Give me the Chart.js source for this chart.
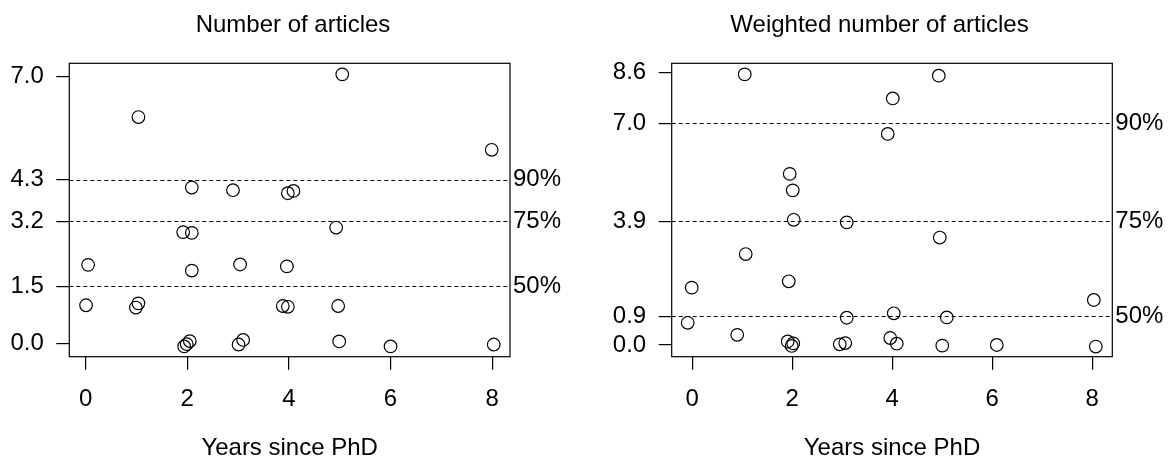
<!DOCTYPE html>
<html>
<head>
<meta charset="utf-8">
<script src="https://cdn.jsdelivr.net/npm/chart.js@4.4.1/dist/chart.umd.min.js"></script>
<style>
  html, body { margin: 0; padding: 0; background: #fff; }
  #wrap { position: relative; width: 1173px; height: 466px; }
  .box { position: absolute; top: 0; height: 466px; }
</style>
</head>
<body>
<div id="wrap">
  <div class="box" style="left:0;width:586px"><canvas id="chartArticulos"></canvas></div>
  <div class="box" style="left:586px;width:587px"><canvas id="chartPonderado"></canvas></div>
</div>
<script>
// Datos: años desde el doctorado (con jitter) y artículos
const aniosA = [5.05, 1.04, 7.99, 2.09, 2.90, 3.98, 4.09, 1.92, 2.09, 4.93, 0.05, 2.09, 3.04, 3.96,
                0.01, 1.04, 0.99, 3.88, 3.98, 4.97, 1.94, 1.99, 2.05, 3.01, 3.10, 4.99, 6.00, 8.03];
const articulos = [7.06, 5.94, 5.08, 4.09, 4.02, 3.94, 4.00, 2.92, 2.90, 3.04, 2.06, 1.91, 2.07, 2.02,
                   1.00, 1.05, 0.94, 0.98, 0.96, 0.98, -0.08, -0.02, 0.06, -0.03, 0.09, 0.05, -0.08, -0.03];

const aniosB = [1.05, 4.93, 4.01, 3.91, 1.95, 2.01, 2.03, 3.09, 4.95, 1.07, 1.93, -0.01, 8.03, 4.03,
                3.09, 5.09, -0.09, 0.90, 3.96, 1.91, 2.02, 1.99, 2.95, 3.06, 4.09, 5.00, 6.09, 8.07];
const ponderados = [8.54, 8.50, 7.78, 6.66, 5.40, 4.88, 3.95, 3.87, 3.39, 2.87, 2.01, 1.81, 1.42, 1.00,
                    0.86, 0.87, 0.70, 0.32, 0.22, 0.11, 0.05, -0.03, 0.02, 0.06, 0.04, -0.02, 0.00, -0.05];

const ticksX = [0, 2, 4, 6, 8];
const ticksA = [0.0, 1.5, 3.2, 4.3, 7.0];
const ticksB = [0.0, 0.9, 3.9, 7.0, 8.6];
const cuantilesA = [1.5, 3.2, 4.3];
const cuantilesB = [0.9, 3.9, 7.0];
const etiquetasCuantil = ['50%', '75%', '90%'];

const FUENTE = 'Liberation Sans, Arial, sans-serif';
const TAM = 24;

// Caja del gráfico y líneas de cuantiles
const plotBox = {
    id: 'plotBox',
    beforeDatasetsDraw(chart, args, opts) {
        const { ctx, chartArea: a, scales: { y } } = chart;
        ctx.save();
        ctx.strokeStyle = '#000';
        ctx.lineWidth = 1.2;
        ctx.setLineDash([4, 3]);
        opts.cuantiles.forEach(q => {
            const py = Math.round(y.getPixelForValue(q)) + 0.5;
            ctx.beginPath();
            ctx.moveTo(a.left, py);
            ctx.lineTo(a.right, py);
            ctx.stroke();
        });
        ctx.setLineDash([]);
        ctx.strokeRect(a.left, a.top, a.right - a.left, a.bottom - a.top);
        ctx.restore();
    }
};

function crearGrafica(id, xs, ys, opt) {
    const puntos = xs.map((x, i) => ({ x: x, y: ys[i] }));
    return new Chart(document.getElementById(id), {
        type: 'scatter',
        data: {
            datasets: [{
                data: puntos,
                pointStyle: 'circle',
                pointRadius: 6.3,
                pointHoverRadius: 6.3,
                borderColor: '#000',
                backgroundColor: 'rgba(0,0,0,0)',
                borderWidth: 1.2
            }]
        },
        options: {
            responsive: true,
            maintainAspectRatio: false,
            animation: false,
            events: [],
            layout: { padding: 0 },
            plugins: {
                legend: { display: false },
                tooltip: { enabled: false },
                title: {
                    display: true,
                    text: opt.titulo,
                    color: '#000',
                    font: { family: FUENTE, size: TAM, weight: 'normal' },
                    padding: { top: 10.5, bottom: 24 }
                },
                plotBox: { cuantiles: opt.cuantiles }
            },
            scales: {
                x: {
                    type: 'linear',
                    min: opt.xMin, max: opt.xMax,
                    afterBuildTicks: s => { s.ticks = ticksX.map(v => ({ value: v })); },
                    afterFit: s => { s.height = 109.3; },
                    ticks: { color: '#000', font: { family: FUENTE, size: TAM }, padding: 15.5,
                             callback: v => String(v), maxRotation: 0 },
                    grid: { drawOnChartArea: false, drawTicks: true, tickLength: 13, color: '#000', lineWidth: 1.2 },
                    border: { display: false },
                    title: { display: true, text: 'Years since PhD', color: '#000',
                             font: { family: FUENTE, size: TAM }, padding: { top: 0, bottom: 3.6 } }
                },
                y: {
                    type: 'linear',
                    position: 'left',
                    min: opt.yMin, max: opt.yMax,
                    afterBuildTicks: s => { s.ticks = opt.ticksY.map(v => ({ value: v })); },
                    afterFit: s => { s.width = opt.izq; },
                    ticks: { color: '#000', font: { family: FUENTE, size: TAM }, padding: 12.5,
                             callback: v => v.toFixed(1) },
                    grid: { drawOnChartArea: false, drawTicks: true, tickLength: 13, color: '#000', lineWidth: 1.2 },
                    border: { display: false }
                },
                q: {
                    type: 'linear',
                    position: 'right',
                    min: opt.yMin, max: opt.yMax,
                    afterBuildTicks: s => { s.ticks = opt.cuantiles.map(v => ({ value: v })); },
                    afterFit: s => { s.width = opt.der; },
                    ticks: { color: '#000', font: { family: FUENTE, size: TAM }, padding: 3,
                             callback: v => etiquetasCuantil[opt.cuantiles.indexOf(v)] },
                    grid: { display: false, drawTicks: false },
                    border: { display: false }
                }
            }
        },
        plugins: [plotBox]
    });
}

crearGrafica('chartArticulos', aniosA, articulos, {
    titulo: 'Number of articles',
    xMin: -0.32, xMax: 8.35, yMin: -0.35, yMax: 7.35,
    ticksY: ticksA, cuantiles: cuantilesA, izq: 69.3, der: 76
});

crearGrafica('chartPonderado', aniosB, ponderados, {
    titulo: 'Weighted number of articles',
    xMin: -0.41, xMax: 8.40, yMin: -0.37, yMax: 8.89,
    ticksY: ticksB, cuantiles: cuantilesB, izq: 85.7, der: 60.7
});
</script>
</body>
</html>
